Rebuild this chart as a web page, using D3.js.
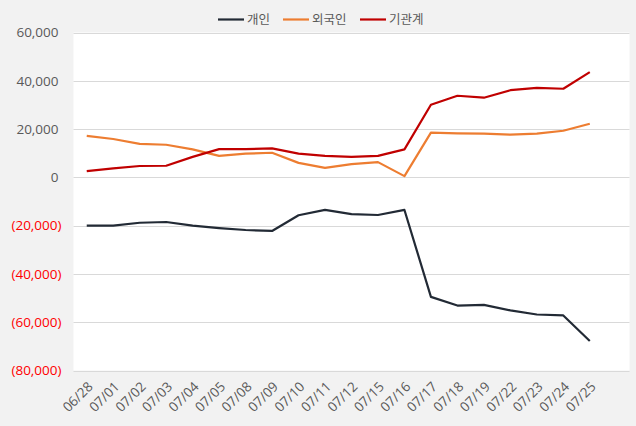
<!DOCTYPE html>
<html><head><meta charset="utf-8">
<script src="https://cdn.jsdelivr.net/npm/d3@7"></script>
<style>html,body{margin:0;padding:0;background:#f2f2f2;}svg{display:block;}</style>
</head><body>
<svg id="chart" width="636" height="426"></svg>
<script>
const dates = ["06/28","07/01","07/02","07/03","07/04","07/05","07/08","07/09","07/10","07/11","07/12","07/15","07/16","07/17","07/18","07/19","07/22","07/23","07/24","07/25"];
const individual = [-20000,-20000,-18800,-18500,-20000,-21000,-21800,-22200,-15700,-13500,-15200,-15600,-13500,-49500,-53100,-52800,-55100,-56800,-57200,-67800];
const foreign = [17200,15900,13900,13500,11600,8900,9800,10200,6000,3900,5500,6300,500,18500,18200,18100,17700,18100,19300,22200];
const institution = [2600,3700,4700,4800,8500,11700,11700,12000,9800,8900,8500,8900,11600,30100,33800,33000,36100,37100,36700,43600];
const yTicks = [60000,40000,20000,0,-20000,-40000,-60000,-80000];
const seriesNames = ["개인","외국인","기관계"];
const seriesColors = ["#222a35","#ed7d31","#c00000"];

const svg = d3.select("#chart");
const font = "'Open Sans','Noto Sans CJK KR',sans-serif";
const plot = {left:73.5, right:629.5, top:32.5, bottom:370.5};

svg.append("rect").attr("x",0).attr("y",0).attr("width",636).attr("height",426).attr("fill","#f2f2f2");
svg.append("rect").attr("x",plot.left).attr("y",plot.top).attr("width",plot.right-plot.left).attr("height",plot.bottom-plot.top).attr("fill","#ffffff");

// 21 slots: 20 dates + one empty trailing slot
const slot = (plot.right-plot.left)/21;
const x = d3.scaleBand().domain(dates).range([plot.left, plot.left+slot*20]);
const y = d3.scaleLinear().domain([-80000,60000]).range([plot.bottom, plot.top]);

// grid
svg.append("g").selectAll("line").data(yTicks).join("line")
  .attr("x1",plot.left).attr("x2",plot.right)
  .attr("y1",d=>Math.round(y(d))+0.5).attr("y2",d=>Math.round(y(d))+0.5)
  .attr("stroke","#d9d9d9").attr("stroke-width",1);

// y axis labels
const fmt = d3.format(",");
const yAxis = d3.axisLeft(y).tickValues(yTicks).tickSize(0).tickPadding(0)
  .tickFormat(d => d<0 ? "("+fmt(-d)+")" : fmt(d));
const gy = svg.append("g").attr("transform",`translate(${plot.left-15},0)`).call(yAxis);
gy.select(".domain").remove();
gy.selectAll("text").attr("font-family",font).attr("font-size",13.5)
  .attr("fill",d=>d<0?"#ff0000":"#595959");
gy.selectAll("text").filter(d=>d<0).attr("dx",3);

// x axis labels
const xAxis = d3.axisBottom(x).tickSize(0).tickPadding(0);
const gx = svg.append("g").attr("transform",`translate(0,${plot.bottom})`).call(xAxis);
gx.select(".domain").remove();
gx.selectAll("text").attr("font-family",font).attr("font-size",13.5).attr("fill","#595959")
  .attr("text-anchor","end").attr("dy",0).attr("y",0)
  .attr("transform","translate(7,17) rotate(-45)");

// lines
const allSeries = [individual, foreign, institution];
const line = d3.line().x((d,i)=>x(dates[i])+x.bandwidth()/2).y(d=>y(d));
svg.append("g").selectAll("path").data(allSeries).join("path")
  .attr("d",line).attr("fill","none")
  .attr("stroke",(d,i)=>seriesColors[i]).attr("stroke-width",2.2)
  .attr("stroke-linejoin","round");

// legend
const legendX = [218, 283, 360];
const lg = svg.append("g");
seriesNames.forEach((n,i)=>{
  lg.append("line").attr("x1",legendX[i]).attr("x2",legendX[i]+26).attr("y1",19.5).attr("y2",19.5)
    .attr("stroke",seriesColors[i]).attr("stroke-width",2.2);
  lg.append("text").attr("x",legendX[i]+29).attr("y",24).attr("font-family",font).attr("font-size",12.5)
    .attr("fill","#595959").text(n);
});
</script>
</body></html>
